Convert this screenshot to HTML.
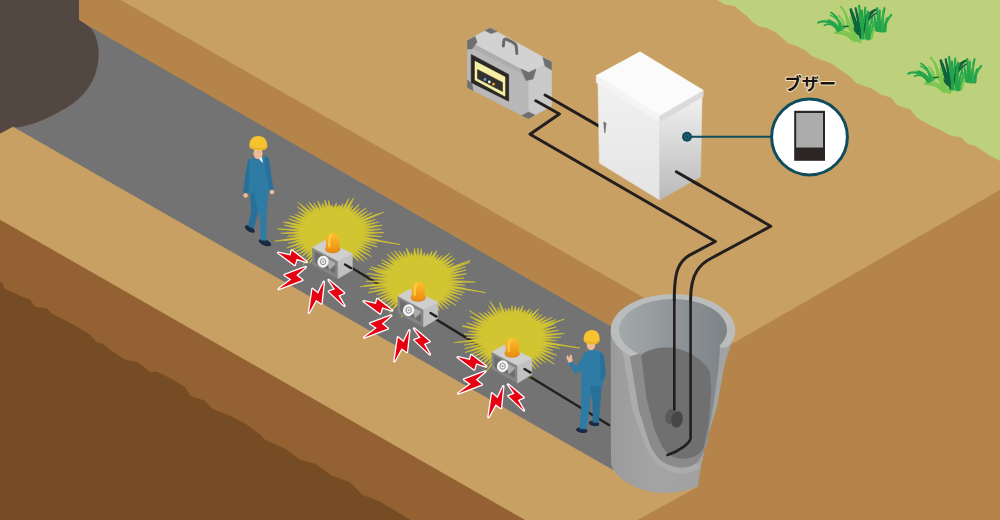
<!DOCTYPE html>
<html lang="ja"><head><meta charset="utf-8"><title>ブザー</title>
<style>html,body{margin:0;padding:0;background:#C8A063;overflow:hidden}svg{display:block}</style></head>
<body><svg width="1000" height="520" viewBox="0 0 1000 520">
<defs>
<linearGradient id="gPipeIn" gradientUnits="userSpaceOnUse" x1="619" y1="0" x2="727" y2="0">
<stop offset="0" stop-color="#A3A9AB"/><stop offset="1" stop-color="#7C8285"/></linearGradient>
<linearGradient id="gPipeFront" x1="0" y1="0" x2="1" y2="0">
<stop offset="0" stop-color="#9B9B9C"/><stop offset="0.35" stop-color="#A4A4A5"/><stop offset="1" stop-color="#9E9E9F"/></linearGradient>
<linearGradient id="gBoxR" x1="0" y1="0" x2="0" y2="1">
<stop offset="0" stop-color="#F2F2F2"/><stop offset="1" stop-color="#B9B9B9"/></linearGradient>
<linearGradient id="gBoxL" x1="0" y1="0" x2="0" y2="1">
<stop offset="0" stop-color="#F1F1F1"/><stop offset="1" stop-color="#E4E4E4"/></linearGradient>
<linearGradient id="gLamp" x1="0" y1="0" x2="0" y2="1">
<stop offset="0" stop-color="#FBC02D"/><stop offset="1" stop-color="#EE8E12"/></linearGradient>
<linearGradient id="gPipeIn2" x1="0" y1="0" x2="1" y2="0"><stop offset="0" stop-color="#8E8E8E"/><stop offset="0.4" stop-color="#8A8C8D"/><stop offset="1" stop-color="#838889"/></linearGradient>
<filter id="fGlow" x="-20%" y="-20%" width="140%" height="140%"><feGaussianBlur stdDeviation="0.35"/></filter>
</defs>
<rect width="1000" height="520" fill="#C8A063"/>
<polygon points="717.4,0.0 724.7,4.1 734.5,5.7 741.0,11.4 747.6,16.3 752.5,22.0 759.0,26.1 767.2,27.8 775.4,31.9 781.9,37.6 788.4,43.3 796.6,45.8 804.8,49.8 811.3,55.6 821.1,59.6 830.9,62.9 839.1,68.6 850.0,76.5 856.5,83.1 871.2,88.0 881.0,94.5 890.8,97.0 897.4,105.1 910.5,109.2 917.0,117.4 928.4,123.9 941.5,130.5 951.3,135.4 961.1,137.0 967.6,143.5 975.8,146.0 985.6,152.5 989.0,155.0 1000.0,160.5 1000.0,0.0" fill="#BDD07B" stroke="#BDD07B" stroke-width="0.6" stroke-linejoin="round" />
<polygon points="60.0,0.0 79.0,20.0 720.0,389.0 720.0,540.0 0.0,130.0 0.0,0.0" fill="#737373" stroke="#737373" stroke-width="0.6" stroke-linejoin="round" />
<polygon points="79.0,-5.0 120.0,0.0 700.0,329.9 700.0,377.1 79.0,20.0" fill="#B5844A" stroke="#B5844A" stroke-width="0.6" stroke-linejoin="round" />
<polygon points="79.0,-5.0 111.0,-5.0 120.0,0.0 79.0,0.0" fill="#B5844A" stroke="#B5844A" stroke-width="0.6" stroke-linejoin="round" />
<path d="M0,0 L79,0 L79,20 C86,24 91,28 93,31 C97,38 99,46 98.7,55 C98.5,62 97,69 95,75 C92,83 88,89 82.5,95 C77,101 70,106 62.5,110 C53,115.5 43,120.5 32.5,124 C26,126 19,127.3 13,127.5 L0,134 Z" fill="#534741"/>
<polygon points="13.0,127.0 613.0,470.2 640.0,440.0 720.0,440.0 720.0,540.0 0.0,540.0 0.0,134.0" fill="#C8A063" stroke="#C8A063" stroke-width="0.6" stroke-linejoin="round" />
<polygon points="0.0,220.0 524.5,520.0 530.0,530.0 0.0,530.0" fill="#946232" stroke="#946232" stroke-width="0.6" stroke-linejoin="round" />
<polygon points="0.0,282.0 3.0,284.0 4.0,289.0 12.0,292.0 22.0,297.0 30.0,300.0 35.0,307.0 47.0,309.0 52.0,314.0 75.0,326.0 90.0,335.0 97.0,343.0 103.0,344.0 110.0,350.0 125.0,360.0 137.5,362.5 142.5,366.0 150.0,372.5 157.0,372.0 175.0,381.0 185.0,387.5 190.0,396.0 205.0,401.0 212.0,409.0 230.0,416.0 247.0,425.0 260.0,435.0 265.0,440.0 287.0,450.0 300.0,460.0 315.0,464.0 332.0,476.0 350.0,482.5 362.0,495.0 380.0,502.0 405.0,517.0 410.0,520.0 0.0,520.0" fill="#754C24" stroke="#754C24" stroke-width="0.6" stroke-linejoin="round" />
<polygon points="724.0,348.8 1000.0,190.3 1000.0,520.0 638.0,520.0 697.0,487.5" fill="#B5844A" stroke="#B5844A" stroke-width="0.6" stroke-linejoin="round" />
<path d="M610.7,330 L611,462 C612,478 640,493 663,493 C678,493 690,490 698,486 L701,466 L706.3,440.7 L716.8,406.8 L724.5,364.6 L733.8,337 L735.4,330 Z" fill="url(#gPipeFront)"/>
<ellipse cx="673" cy="330" rx="62.3" ry="36" fill="#BBBDBD"/>
<ellipse cx="673" cy="330" rx="54" ry="31" fill="url(#gPipeIn)"/>
<path d="M622.5,351.5 L629,355.5 L630,356.3 L638.8,410 L650,445 C654,453 658,459 663.8,462.5 C670,466 676,467.5 682.5,467.5 C688,467.5 693,465.5 697.5,462.5 L700.5,468 C694,471.5 688,473.5 682,473.5 C674,473.5 666,470.5 660,466 C654,461 649,454 645,445 L632.5,410 Z" fill="#ACACAD"/>
<path d="M630,356.3 L641,353 L655,335 L705,335 L718.5,345.8 L720,347.5 L718.8,365 L713.8,402.5 L706.3,445 C704,452 701,458 697.5,462.5 C693,465.5 688,467.5 682.5,467.5 C676,467.5 670,466 663.8,462.5 C658,459 654,453 650,445 L638.8,410 Z" fill="#8B8B8B"/>
<path d="M641,353 L655,335 L705,335 L718.5,345.8 L720,347.5 L718.8,365 L713.8,402.5 L706.3,445 L703.8,447.5 L708.8,422.5 L711.3,390 L710,372.5 C707,366 703,362 698,358.5 C690,352.5 680,348 668,347.5 C657,347.3 647,350 641.3,355 Z" fill="url(#gPipeIn)" stroke="url(#gPipeIn)" stroke-width="1" stroke-linejoin="round"/>
<path d="M720,347.5 L728,347.3 L724.5,364.6 L716.8,406.8 L706.3,440.7 L701,466 L697.5,462.5 C701,458 704,452 706.3,445 L713.8,402.5 L718.8,365 Z" fill="#A1A3A4"/>
<path d="M641.3,355 C647,350 657,347.3 668,347.5 C680,348 690,352.5 698,358.5 C703,362 707,366 710,372.5 L711.3,390 L708.8,422.5 L703.8,447.5 C701,452 698,455 695,456.3 C691,458 687,458.8 682.5,458.8 C678,458.8 674,457.5 670,455 C666,452.5 663.5,449 661.3,445 L653.8,427.5 L646.3,397.5 Z" fill="#707070"/>
<path d="M674.3,300 L674.3,410" fill="none" stroke="#231F1E" stroke-width="2.6" stroke-linecap="round" stroke-linejoin="round"/>
<path d="M690.6,300 L690.6,438 C690,443 680,451 667.5,455" fill="none" stroke="#231F1E" stroke-width="2.6" stroke-linecap="round" stroke-linejoin="round"/>
<ellipse cx="670.3" cy="416.5" rx="5" ry="7.5" fill="#5A5A5A" transform="rotate(12 670.3 416.5)"/>
<ellipse cx="677" cy="419.4" rx="5.8" ry="8.3" fill="#474747" transform="rotate(12 677 419.4)"/>
<polygon points="467.5,41.0 528.7,72.5 528.7,118.7 467.5,87.5" fill="#B8B8B8" stroke="#B8B8B8" stroke-width="0.6" stroke-linejoin="round" />
<polygon points="467.5,41.0 528.7,72.5 528.7,77.0 467.5,45.5" fill="#ADADAD" stroke="#ADADAD" stroke-width="0.6" stroke-linejoin="round" />
<polygon points="528.7,72.5 551.5,61.7 551.5,106.0 528.7,118.7" fill="#C9C9C9" stroke="#C9C9C9" stroke-width="0.6" stroke-linejoin="round" />
<polygon points="467.5,40.2 490.3,28.0 551.5,61.7 528.7,72.5" fill="#D2D2D2" stroke="#D2D2D2" stroke-width="0.6" stroke-linejoin="round" />
<polygon points="467.5,40.5 475.0,36.5 477.0,42.0 472.0,49.0 467.5,49.0" fill="#6F6F6F" stroke="#6F6F6F" stroke-width="0.6" stroke-linejoin="round" />
<polygon points="485.0,30.5 490.3,28.0 497.0,31.5 491.0,33.5" fill="#6F6F6F" stroke="#6F6F6F" stroke-width="0.6" stroke-linejoin="round" />
<polygon points="543.0,57.5 551.5,61.7 551.5,70.0 545.0,66.0" fill="#6F6F6F" stroke="#6F6F6F" stroke-width="0.6" stroke-linejoin="round" />
<polygon points="521.0,69.0 528.7,72.5 536.0,69.0 533.0,79.0 526.0,80.5" fill="#6F6F6F" stroke="#6F6F6F" stroke-width="0.6" stroke-linejoin="round" />
<polygon points="467.5,80.0 472.0,84.0 473.0,90.5 467.5,87.5" fill="#6F6F6F" stroke="#6F6F6F" stroke-width="0.6" stroke-linejoin="round" />
<polygon points="522.0,115.5 528.7,112.0 535.0,115.0 528.7,118.7" fill="#6F6F6F" stroke="#6F6F6F" stroke-width="0.6" stroke-linejoin="round" />
<path d="M503.3,46 L503.8,41.5 C504,39 505.5,38.6 507.5,39.6 L513.5,42.8 C515.5,44 516.3,45.5 516.5,48 L516.8,53.5" fill="none" stroke="#6a6a6a" stroke-width="3" stroke-linecap="round"/>
<polygon points="471.2,54.5 508.7,74.5 508.7,101.2 471.2,82.5" fill="#2B2724" stroke="#2B2724" stroke-width="0.6" stroke-linejoin="round" />
<polygon points="475.0,61.2 505.0,77.0 505.0,96.2 475.0,80.0" fill="#F6F0A5" stroke="#F6F0A5" stroke-width="0.6" stroke-linejoin="round" />
<polygon points="477.5,69.5 502.5,82.5 502.5,91.5 477.5,78.5" fill="#33302F" stroke="#33302F" stroke-width="0.6" stroke-linejoin="round" />
<circle cx="485" cy="79.5" r="1.4" fill="#5CA9DD"/><circle cx="489.3" cy="82" r="1.4" fill="#EEE"/><circle cx="493.5" cy="84.2" r="1.4" fill="#F2A71B"/>
<path d="M545,95 L603,128.4" fill="none" stroke="#231F1E" stroke-width="3" stroke-linecap="round" stroke-linejoin="round"/>
<path d="M535.8,100.8 L559.4,114 L530,134.2 L715.4,241.5 L689.2,255.4 C683,259 680.5,263 678.5,267.7 C675.5,274 674.3,283 674.3,300" fill="none" stroke="#231F1E" stroke-width="3" stroke-linecap="round" stroke-linejoin="round"/>
<path d="M676.3,171.7 L770.8,226.2 L710.8,258.5 C704,262 700,266 697,270.8 C693,277 690.6,288 690.6,300" fill="none" stroke="#231F1E" stroke-width="3" stroke-linecap="round" stroke-linejoin="round"/>
<polygon points="598.0,82.0 659.8,119.0 659.8,200.0 599.4,163.0" fill="url(#gBoxL)" stroke="url(#gBoxL)" stroke-width="0.6" stroke-linejoin="round" />
<polygon points="659.8,119.0 702.0,95.0 700.5,176.8 659.8,200.0" fill="url(#gBoxR)" stroke="url(#gBoxR)" stroke-width="0.6" stroke-linejoin="round" />
<polygon points="596.3,75.5 659.8,115.6 659.8,122.0 596.3,82.5" fill="#F4F4F4" stroke="#F4F4F4" stroke-width="0.6" stroke-linejoin="round" />
<polygon points="659.8,115.6 703.2,90.2 703.2,96.5 659.8,122.0" fill="#DADADA" stroke="#DADADA" stroke-width="0.6" stroke-linejoin="round" />
<polygon points="640.0,51.8 703.2,90.2 659.8,115.6 596.3,75.5" fill="#FBFBFB" stroke="#FBFBFB" stroke-width="0.6" stroke-linejoin="round" />
<path d="M603.3,121.5 L606.5,123 L605.3,133 L604.3,133 Z" fill="#777"/>
<path d="M676.3,171.7 L700,185.4" fill="none" stroke="#231F1E" stroke-width="3" stroke-linecap="round" stroke-linejoin="round"/>
<line x1="687" y1="136.7" x2="771" y2="136.7" stroke="#0F4C5C" stroke-width="2"/>
<circle cx="687" cy="136.7" r="5" fill="#0F4C5C"/>
<circle cx="687" cy="136.7" r="2.2" fill="none" stroke="#2E6B7B" stroke-width="0.8"/>
<circle cx="809.5" cy="137" r="37.9" fill="#fff" stroke="#0F4C5C" stroke-width="3"/>
<rect x="794.2" y="110.8" width="30.8" height="50" fill="#2B2523"/>
<rect x="796.2" y="113" width="26.8" height="34.5" fill="#ACACAC"/>
<text x="810.3" y="90" text-anchor="middle" font-family="'Liberation Sans','Noto Sans CJK JP',sans-serif" font-weight="700" font-size="17.2" fill="#1a1311" stroke="#F3E3C3" stroke-width="2" stroke-linejoin="round" paint-order="stroke">ブザー</text>
<path d="M345.5,264 L609,425" fill="none" stroke="#231F1E" stroke-width="2.4" stroke-linecap="round" stroke-linejoin="round"/>
<g filter="url(#fGlow)">
<polygon points="384.1,232.7 363.1,234.0 382.2,236.7 361.6,236.1 379.6,240.5 362.3,238.5 376.7,243.5 360.3,240.8 377.5,246.9 359.9,242.8 371.3,248.8 359.3,245.2 370.2,251.9 357.3,246.9 371.3,256.5 355.4,248.7 367.2,259.4 354.7,251.1 364.0,261.6 352.2,252.7 358.8,261.3 349.7,253.8 352.4,259.5 347.1,254.9 351.1,263.1 344.6,255.8 346.9,263.4 342.1,256.6 344.3,266.8 339.3,257.7 339.1,261.6 336.5,258.5 336.2,266.0 334.0,259.1 332.4,263.2 331.0,259.1 329.2,265.5 327.9,258.4 325.2,263.8 325.8,256.5 321.4,264.1 322.8,256.8 318.7,262.4 319.9,256.2 316.1,260.1 317.6,255.2 309.0,263.6 315.4,253.2 302.9,264.7 312.7,252.9 305.4,257.6 311.7,250.1 299.7,257.9 308.6,249.4 297.4,254.8 307.6,247.2 295.3,252.0 305.6,245.1 289.8,250.7 305.8,242.9 286.6,247.9 302.9,241.0 288.3,243.3 302.6,238.6 283.7,240.7 302.6,236.4 287.5,236.3 300.8,234.0 280.9,233.2 301.2,231.6 277.4,228.9 301.2,229.7 284.4,225.3 301.5,226.8 286.2,222.0 304.2,225.3 288.6,218.9 303.9,222.9 290.3,215.9 304.9,220.2 294.9,214.3 306.7,218.2 297.9,211.7 308.1,216.2 297.2,206.8 309.9,214.5 298.1,202.4 313.6,214.0 306.5,204.5 315.4,212.6 308.9,202.0 317.3,210.2 313.9,202.9 320.3,211.0 317.6,200.9 322.6,209.0 322.3,203.1 325.6,209.5 324.7,199.8 328.5,208.2 328.6,200.5 330.8,207.5 332.2,205.0 333.6,208.5 336.3,202.9 336.4,208.7 339.1,204.8 339.7,207.5 343.0,203.7 341.9,210.0 348.9,198.5 344.9,209.8 353.8,197.8 348.3,210.2 352.9,205.5 350.1,212.3 359.1,204.3 351.8,214.0 359.5,208.5 354.3,215.5 366.4,207.8 355.6,217.2 367.5,211.2 357.5,219.2 372.1,212.8 358.7,221.1 378.8,213.6 359.4,223.0 375.4,219.5 362.5,224.8 378.7,221.9 363.5,226.8 382.2,225.1 362.4,229.7 381.1,229.0 364.2,231.7" fill="#D2C530" stroke="#D2C530" stroke-width="0.6" stroke-linejoin="round" />
<polygon points="357.2,224.0 383.7,212.1 356.3,222.2" fill="#D2C530" stroke="#D2C530" stroke-width="0.6" stroke-linejoin="round" />
<polygon points="358.8,238.5 400.1,244.5 359.2,236.5" fill="#D2C530" stroke="#D2C530" stroke-width="0.6" stroke-linejoin="round" />
<polygon points="305.7,235.8 274.8,241.2 306.0,237.8" fill="#D2C530" stroke="#D2C530" stroke-width="0.6" stroke-linejoin="round" />
<polygon points="306.7,226.2 283.2,222.1 306.2,228.2" fill="#D2C530" stroke="#D2C530" stroke-width="0.6" stroke-linejoin="round" />
</g>
<polygon points="312.5,247.5 338.1,261.1 338.1,278.5 312.5,264.8" fill="#858585" stroke="#858585" stroke-width="0.6" stroke-linejoin="round" />
<polygon points="338.1,261.1 352.3,253.8 352.3,270.0 338.1,278.5" fill="#C1C1C1" stroke="#C1C1C1" stroke-width="0.6" stroke-linejoin="round" />
<polygon points="312.5,247.5 324.9,240.5 352.3,253.8 338.1,261.1" fill="#CFCFCF" stroke="#CFCFCF" stroke-width="0.6" stroke-linejoin="round" />
<polygon points="315.0,252.0 335.0,262.7 335.0,273.0 315.0,262.3" fill="#6C6C6C" stroke="#6C6C6C" stroke-width="0.6" stroke-linejoin="round" />
<polygon points="326.5,258.5 335.0,262.7 335.0,264.5 329.5,269.5" fill="#ABABAB" stroke="#ABABAB" stroke-width="0.6" stroke-linejoin="round" />
<ellipse cx="323.1" cy="261.7" rx="5.6" ry="6" fill="#F2F2F2" transform="rotate(20 323.1 261.7)"/>
<ellipse cx="323.1" cy="261.7" rx="2.7" ry="3" fill="none" stroke="#8a8a8a" stroke-width="1"/>
<circle cx="323.1" cy="261.7" r="0.9" fill="#8a8a8a"/>
<ellipse cx="332.7" cy="249.0" rx="7.6" ry="4.3" fill="#D98A1C"/>
<path d="M326.1,248.7 L326.1,239.5 C326.1,231.0 339.3,231.0 339.3,239.5 L339.3,248.7 C339.3,252.7 326.1,252.7 326.1,248.7 Z" fill="url(#gLamp)"/>
<path d="M329.3,246.5 C328.9,241.5 329.1,237.5 331.2,235.5" fill="none" stroke="#FDD24A" stroke-width="2.4" stroke-linecap="round" opacity="0.8"/>
<path d="M345.0,264.5 l6,3.6" fill="none" stroke="#231F1E" stroke-width="2.4" stroke-linecap="round" stroke-linejoin="round"/>
<polygon points="278.2,252.7 290.5,255.4 291.8,250.5 306.6,262.0 296.7,258.8 294.7,264.9" fill="#E60012" stroke="#fff" stroke-width="2.6" stroke-linejoin="round" paint-order="stroke"/>
<polygon points="305.7,267.0 284.6,274.9 291.3,279.5 278.7,289.0 302.3,280.0 296.2,275.2" fill="#E60012" stroke="#fff" stroke-width="2.6" stroke-linejoin="round" paint-order="stroke"/>
<polygon points="323.8,281.7 318.1,293.8 312.5,288.9 309.0,312.7 316.1,299.8 321.4,303.5" fill="#E60012" stroke="#fff" stroke-width="2.6" stroke-linejoin="round" paint-order="stroke"/>
<polygon points="328.6,280.1 344.0,293.0 338.3,295.4 344.4,305.9 329.0,291.4 335.1,289.3" fill="#E60012" stroke="#fff" stroke-width="2.6" stroke-linejoin="round" paint-order="stroke"/>
<g filter="url(#fGlow)">
<polygon points="475.3,281.9 449.3,282.9 465.0,285.2 448.6,285.0 465.2,288.5 449.1,287.6 464.5,292.7 445.9,289.0 462.4,295.2 447.1,291.9 460.5,298.9 444.5,293.3 457.7,301.3 442.5,295.4 455.9,305.3 442.0,298.1 449.9,305.6 438.8,298.9 448.3,309.0 437.6,300.8 443.4,309.5 436.0,302.9 439.4,310.4 433.0,304.0 435.2,309.7 429.9,303.8 431.4,310.5 428.3,306.3 428.5,312.2 425.0,306.2 424.7,310.4 422.0,306.7 422.0,314.2 419.1,305.9 417.8,309.1 416.8,306.0 414.6,309.6 413.7,305.8 410.7,314.6 411.2,304.9 408.2,310.1 408.1,306.4 401.4,317.7 405.8,303.7 399.5,312.5 402.7,304.5 398.3,308.0 400.2,302.6 389.4,313.0 397.9,301.2 386.9,309.0 396.3,299.1 384.3,306.9 394.7,297.6 383.8,302.3 392.7,295.8 375.8,303.3 391.4,293.6 375.8,299.2 391.2,291.4 376.7,294.9 387.7,289.8 367.8,292.8 388.8,287.2 369.3,288.9 388.3,284.8 364.6,285.6 388.4,282.7 365.8,281.3 388.1,280.5 369.8,277.8 388.4,278.0 366.8,273.3 388.1,275.8 375.1,271.4 389.8,273.7 371.1,267.0 388.9,271.0 377.5,264.9 392.3,269.9 381.4,262.8 392.4,266.9 381.7,259.5 395.0,265.9 387.6,258.7 395.4,263.1 386.9,254.0 398.6,262.3 391.1,252.3 401.1,261.6 394.3,250.6 403.1,259.1 398.9,250.8 405.7,258.5 403.7,251.4 408.1,257.7 406.4,248.0 411.0,256.3 411.2,252.5 413.6,256.8 414.4,248.2 416.8,257.3 417.9,247.8 419.3,257.4 421.4,248.3 422.2,257.5 424.5,252.5 425.1,257.2 427.8,253.3 428.2,257.2 432.1,251.0 430.7,257.7 436.8,250.5 433.6,259.1 438.5,254.5 435.2,260.5 442.5,255.4 437.4,262.3 449.9,253.1 440.6,263.0 452.2,255.7 442.4,265.0 454.9,258.4 444.4,266.8 454.1,263.3 445.8,269.0 470.4,260.3 446.4,271.4 465.5,266.8 447.8,273.5 466.1,270.0 448.6,275.4 466.5,273.8 448.5,277.9 464.2,278.0 447.2,280.2" fill="#D2C530" stroke="#D2C530" stroke-width="0.6" stroke-linejoin="round" />
<polygon points="443.0,273.2 470.0,262.1 442.2,271.4" fill="#D2C530" stroke="#D2C530" stroke-width="0.6" stroke-linejoin="round" />
<polygon points="444.3,286.8 485.7,292.6 444.7,284.9" fill="#D2C530" stroke="#D2C530" stroke-width="0.6" stroke-linejoin="round" />
<polygon points="391.0,282.9 359.8,286.6 391.3,284.9" fill="#D2C530" stroke="#D2C530" stroke-width="0.6" stroke-linejoin="round" />
<polygon points="392.5,273.8 369.3,268.8 391.9,275.7" fill="#D2C530" stroke="#D2C530" stroke-width="0.6" stroke-linejoin="round" />
</g>
<polygon points="398.0,296.0 423.6,309.6 423.6,327.0 398.0,313.3" fill="#858585" stroke="#858585" stroke-width="0.6" stroke-linejoin="round" />
<polygon points="423.6,309.6 437.8,302.3 437.8,318.5 423.6,327.0" fill="#C1C1C1" stroke="#C1C1C1" stroke-width="0.6" stroke-linejoin="round" />
<polygon points="398.0,296.0 410.4,289.0 437.8,302.3 423.6,309.6" fill="#CFCFCF" stroke="#CFCFCF" stroke-width="0.6" stroke-linejoin="round" />
<polygon points="400.5,300.5 420.5,311.2 420.5,321.5 400.5,310.8" fill="#6C6C6C" stroke="#6C6C6C" stroke-width="0.6" stroke-linejoin="round" />
<polygon points="412.0,307.0 420.5,311.2 420.5,313.0 415.0,318.0" fill="#ABABAB" stroke="#ABABAB" stroke-width="0.6" stroke-linejoin="round" />
<ellipse cx="408.6" cy="310.2" rx="5.6" ry="6" fill="#F2F2F2" transform="rotate(20 408.6 310.2)"/>
<ellipse cx="408.6" cy="310.2" rx="2.7" ry="3" fill="none" stroke="#8a8a8a" stroke-width="1"/>
<circle cx="408.6" cy="310.2" r="0.9" fill="#8a8a8a"/>
<ellipse cx="418.2" cy="297.5" rx="7.6" ry="4.3" fill="#D98A1C"/>
<path d="M411.6,297.2 L411.6,288.0 C411.6,279.5 424.8,279.5 424.8,288.0 L424.8,297.2 C424.8,301.2 411.6,301.2 411.6,297.2 Z" fill="url(#gLamp)"/>
<path d="M414.8,295.0 C414.4,290.0 414.6,286.0 416.7,284.0" fill="none" stroke="#FDD24A" stroke-width="2.4" stroke-linecap="round" opacity="0.8"/>
<path d="M430.5,313.0 l6,3.6" fill="none" stroke="#231F1E" stroke-width="2.4" stroke-linecap="round" stroke-linejoin="round"/>
<polygon points="363.7,301.2 376.0,303.9 377.3,299.0 392.1,310.5 382.2,307.3 380.2,313.4" fill="#E60012" stroke="#fff" stroke-width="2.6" stroke-linejoin="round" paint-order="stroke"/>
<polygon points="391.2,315.5 370.1,323.4 376.8,328.0 364.2,337.5 387.8,328.5 381.7,323.7" fill="#E60012" stroke="#fff" stroke-width="2.6" stroke-linejoin="round" paint-order="stroke"/>
<polygon points="409.3,330.2 403.6,342.3 398.0,337.4 394.5,361.2 401.6,348.3 406.9,352.0" fill="#E60012" stroke="#fff" stroke-width="2.6" stroke-linejoin="round" paint-order="stroke"/>
<polygon points="414.1,328.6 429.5,341.5 423.8,343.9 429.9,354.4 414.5,339.9 420.6,337.8" fill="#E60012" stroke="#fff" stroke-width="2.6" stroke-linejoin="round" paint-order="stroke"/>
<g filter="url(#fGlow)">
<polygon points="561.1,337.3 543.0,338.7 556.7,340.6 541.7,340.8 559.3,345.2 542.2,343.3 559.5,348.3 541.7,345.7 553.1,350.7 539.5,347.5 557.0,355.4 539.6,350.2 554.1,359.0 537.1,351.8 554.5,364.3 536.7,354.1 545.7,362.6 533.4,355.1 542.0,364.3 531.7,357.3 539.0,367.4 528.7,357.6 535.5,369.2 527.2,359.9 531.5,369.2 524.0,359.5 530.4,377.2 521.5,360.6 523.4,369.8 519.4,362.2 519.7,369.6 516.2,363.5 515.8,371.4 513.7,362.8 512.3,366.0 510.6,361.8 508.6,370.5 507.3,363.2 505.1,368.0 504.8,362.2 501.1,368.9 502.3,361.2 498.2,366.3 499.3,360.4 495.6,364.5 497.7,358.5 485.5,372.4 494.4,358.6 485.4,366.5 493.4,356.2 480.0,366.1 490.2,355.4 480.0,361.6 488.3,353.7 476.6,359.6 486.7,352.0 473.8,356.7 485.8,349.3 470.5,354.7 484.5,347.7 465.2,352.5 483.7,345.1 464.6,348.7 482.9,343.1 464.2,345.1 480.7,340.9 465.3,341.3 480.5,338.6 466.1,337.6 482.0,336.2 464.1,334.0 480.5,333.9 468.1,331.0 480.9,331.3 462.2,326.0 482.2,329.5 466.5,322.8 484.3,327.6 472.8,321.7 484.4,325.0 469.6,316.4 486.0,322.6 469.2,310.5 488.7,321.9 479.0,312.7 490.3,319.4 483.8,312.3 491.9,317.7 487.6,311.2 495.3,317.3 488.6,306.1 497.9,316.4 490.1,301.3 499.5,314.5 497.7,307.3 502.4,314.7 499.4,302.1 505.4,313.9 505.3,308.0 507.6,312.3 508.7,307.8 510.5,313.3 512.0,305.6 513.1,313.1 515.4,306.2 516.3,311.9 519.0,307.2 519.1,312.6 523.0,305.6 521.6,313.6 525.3,309.7 524.8,313.7 530.0,308.5 526.8,316.1 532.3,310.6 530.0,316.1 538.7,308.8 530.9,318.9 538.8,313.5 532.9,320.6 542.3,314.5 534.5,322.0 546.1,316.7 538.1,322.9 552.2,317.5 539.3,324.8 555.6,319.7 541.2,327.1 554.9,323.5 540.5,329.9 556.3,326.9 541.6,331.9 558.8,330.2 541.2,334.1 564.3,333.5 541.7,336.5" fill="#D2C530" stroke="#D2C530" stroke-width="0.6" stroke-linejoin="round" />
<polygon points="537.2,329.6 564.5,319.0 536.5,327.8" fill="#D2C530" stroke="#D2C530" stroke-width="0.6" stroke-linejoin="round" />
<polygon points="538.4,342.6 579.8,348.1 538.7,340.7" fill="#D2C530" stroke="#D2C530" stroke-width="0.6" stroke-linejoin="round" />
<polygon points="485.0,338.8 453.8,342.6 485.3,340.8" fill="#D2C530" stroke="#D2C530" stroke-width="0.6" stroke-linejoin="round" />
<polygon points="486.3,330.3 463.0,325.8 485.8,332.2" fill="#D2C530" stroke="#D2C530" stroke-width="0.6" stroke-linejoin="round" />
</g>
<polygon points="492.0,352.0 517.6,365.6 517.6,383.0 492.0,369.3" fill="#858585" stroke="#858585" stroke-width="0.6" stroke-linejoin="round" />
<polygon points="517.6,365.6 531.8,358.3 531.8,374.5 517.6,383.0" fill="#C1C1C1" stroke="#C1C1C1" stroke-width="0.6" stroke-linejoin="round" />
<polygon points="492.0,352.0 504.4,345.0 531.8,358.3 517.6,365.6" fill="#CFCFCF" stroke="#CFCFCF" stroke-width="0.6" stroke-linejoin="round" />
<polygon points="494.5,356.5 514.5,367.2 514.5,377.5 494.5,366.8" fill="#6C6C6C" stroke="#6C6C6C" stroke-width="0.6" stroke-linejoin="round" />
<polygon points="506.0,363.0 514.5,367.2 514.5,369.0 509.0,374.0" fill="#ABABAB" stroke="#ABABAB" stroke-width="0.6" stroke-linejoin="round" />
<ellipse cx="502.6" cy="366.2" rx="5.6" ry="6" fill="#F2F2F2" transform="rotate(20 502.6 366.2)"/>
<ellipse cx="502.6" cy="366.2" rx="2.7" ry="3" fill="none" stroke="#8a8a8a" stroke-width="1"/>
<circle cx="502.6" cy="366.2" r="0.9" fill="#8a8a8a"/>
<ellipse cx="512.2" cy="353.5" rx="7.6" ry="4.3" fill="#D98A1C"/>
<path d="M505.6,353.2 L505.6,344.0 C505.6,335.5 518.8,335.5 518.8,344.0 L518.8,353.2 C518.8,357.2 505.6,357.2 505.6,353.2 Z" fill="url(#gLamp)"/>
<path d="M508.8,351.0 C508.4,346.0 508.6,342.0 510.7,340.0" fill="none" stroke="#FDD24A" stroke-width="2.4" stroke-linecap="round" opacity="0.8"/>
<path d="M524.5,369.0 l6,3.6" fill="none" stroke="#231F1E" stroke-width="2.4" stroke-linecap="round" stroke-linejoin="round"/>
<polygon points="457.7,357.2 470.0,359.9 471.3,355.0 486.1,366.5 476.2,363.3 474.2,369.4" fill="#E60012" stroke="#fff" stroke-width="2.6" stroke-linejoin="round" paint-order="stroke"/>
<polygon points="485.2,371.5 464.1,379.4 470.8,384.0 458.2,393.5 481.8,384.5 475.7,379.7" fill="#E60012" stroke="#fff" stroke-width="2.6" stroke-linejoin="round" paint-order="stroke"/>
<polygon points="503.3,386.2 497.6,398.3 492.0,393.4 488.5,417.2 495.6,404.3 500.9,408.0" fill="#E60012" stroke="#fff" stroke-width="2.6" stroke-linejoin="round" paint-order="stroke"/>
<polygon points="508.1,384.6 523.5,397.5 517.8,399.9 523.9,410.4 508.5,395.9 514.6,393.8" fill="#E60012" stroke="#fff" stroke-width="2.6" stroke-linejoin="round" paint-order="stroke"/>
<ellipse cx="249.8" cy="229" rx="5.6" ry="2.8" fill="#1B2A41" transform="rotate(32 249.8 229)"/>
<ellipse cx="265" cy="242.6" rx="6.6" ry="3" fill="#1B2A41" transform="rotate(22 265 242.6)"/>
<polygon points="250.0,190.0 259.0,192.0 257.5,214.0 253.5,228.5 248.3,226.0 251.5,211.0" fill="#27709A" stroke="#27709A" stroke-width="0.6" stroke-linejoin="round" />
<polygon points="255.0,192.0 267.5,193.0 266.5,216.0 266.0,240.5 261.0,240.0 260.5,218.0 256.0,203.0" fill="#2E7CA5" stroke="#2E7CA5" stroke-width="0.6" stroke-linejoin="round" />
<polygon points="248.5,159.5 252.5,160.0 251.0,178.0 248.0,194.0 243.5,192.5 245.5,175.0" fill="#27709A" stroke="#27709A" stroke-width="0.6" stroke-linejoin="round" />
<polygon points="249.5,160.0 255.0,157.5 262.0,158.0 266.5,155.8 269.8,172.0 268.5,194.5 250.0,192.5 249.5,176.0" fill="#2E7CA5" stroke="#2E7CA5" stroke-width="0.6" stroke-linejoin="round" />
<polygon points="265.0,157.0 268.5,158.5 272.0,182.0 273.5,189.5 269.8,190.5 268.0,180.0 265.0,167.0" fill="#27709A" stroke="#27709A" stroke-width="0.6" stroke-linejoin="round" />
<circle cx="245.6" cy="195.4" r="2.3" fill="#EDB99B"/><circle cx="272" cy="192" r="2.3" fill="#EDB99B"/>
<polygon points="258.5,158.0 261.5,156.5 262.5,162.5" fill="#F4F4F4" stroke="#F4F4F4" stroke-width="0.6" stroke-linejoin="round" />
<ellipse cx="258" cy="153.3" rx="4.6" ry="5.8" fill="#EDB99B"/>
<path d="M249.5,146.5 C249,139.5 253,136 258.5,136 C264,136 267.6,140 267.3,146.8 C267.3,149.6 262,151 257.5,150.2 C253,149.6 249.6,148.6 249.5,146.5 Z" fill="#F6C22F"/>
<path d="M250.5,146.5 C254,149 262,150 266.8,147.2" fill="none" stroke="#DDA51E" stroke-width="1"/>
<ellipse cx="581.8" cy="430.3" rx="5.8" ry="2.7" fill="#1B2A41" transform="rotate(8 581.8 430.3)"/>
<ellipse cx="594" cy="423.5" rx="5.2" ry="2.5" fill="#1B2A41" transform="rotate(8 594 423.5)"/>
<polygon points="581.5,383.0 591.5,385.0 589.5,408.0 586.0,429.0 580.0,428.5 581.5,406.0" fill="#2E7CA5" stroke="#2E7CA5" stroke-width="0.6" stroke-linejoin="round" />
<polygon points="590.0,385.0 601.5,383.0 600.0,405.0 598.5,422.5 593.0,422.5 593.0,404.0" fill="#27709A" stroke="#27709A" stroke-width="0.6" stroke-linejoin="round" />
<polygon points="584.5,353.5 588.0,358.0 580.0,371.5 574.5,373.0 568.5,362.5 571.5,361.0 576.5,367.0" fill="#2E7CA5" stroke="#2E7CA5" stroke-width="0.6" stroke-linejoin="round" />
<polygon points="584.0,353.0 590.0,350.5 596.0,350.5 601.5,352.0 604.0,368.0 602.5,386.0 581.0,386.0 582.0,368.0" fill="#2E7CA5" stroke="#2E7CA5" stroke-width="0.6" stroke-linejoin="round" />
<polygon points="600.0,352.0 603.5,355.0 605.5,372.0 603.5,380.0 600.5,379.0 601.0,368.0" fill="#27709A" stroke="#27709A" stroke-width="0.6" stroke-linejoin="round" />
<path d="M568.8,363 L566.2,357.5 L567.5,355 L569.5,358 L570,354.5 L571.8,355 L572.6,361.2 Z" fill="#EDB99B"/>
<ellipse cx="591" cy="345.3" rx="4.2" ry="5" fill="#EDB99B"/>
<path d="M583.7,340 C583.2,333.5 587,330 592,330 C597,330 600,334 599.6,340.5 C599.4,343.5 595,345 591,344.6 C587,344.2 583.9,342.5 583.7,340 Z" fill="#F6C22F"/>
<path d="M584.5,340.5 C588,343.4 595,344 599,341.3" fill="none" stroke="#DDA51E" stroke-width="1"/>
<path d="M853.27,40.38 Q846.54,32.21 835.00,32.69" fill="none" stroke="#7BC650" stroke-width="2.50" stroke-linecap="round"/>
<path d="M851.39,40.38 Q845.29,32.21 840.77,32.45 Q847.79,32.21 855.14,40.38 Z" fill="#7BC650"/>
<path d="M855.19,41.35 Q850.38,31.25 841.73,31.25" fill="none" stroke="#7BC650" stroke-width="2.12" stroke-linecap="round"/>
<path d="M853.61,41.35 Q849.33,31.25 846.06,31.25 Q851.44,31.25 856.78,41.35 Z" fill="#7BC650"/>
<path d="M848.46,27.88 Q847.02,12.50 840.77,6.73" fill="none" stroke="#7BC650" stroke-width="2.12" stroke-linecap="round"/>
<path d="M846.88,27.88 Q845.96,12.50 843.89,9.62 Q848.08,12.50 850.05,27.88 Z" fill="#7BC650"/>
<path d="M844.62,28.85 Q843.65,20.19 838.85,15.87" fill="none" stroke="#7BC650" stroke-width="1.73" stroke-linecap="round"/>
<path d="M843.32,28.85 Q842.79,20.19 841.25,18.03 Q844.52,20.19 845.91,28.85 Z" fill="#7BC650"/>
<path d="M858.08,41.35 Q856.15,33.65 851.35,28.85" fill="none" stroke="#7BC650" stroke-width="2.12" stroke-linecap="round"/>
<path d="M856.49,41.35 Q855.10,33.65 853.75,31.25 Q857.21,33.65 859.66,41.35 Z" fill="#7BC650"/>
<path d="M860.00,42.31 Q860.00,33.65 858.08,27.88" fill="none" stroke="#7BC650" stroke-width="1.92" stroke-linecap="round"/>
<path d="M858.56,42.31 Q859.04,33.65 859.04,30.77 Q860.96,33.65 861.44,42.31 Z" fill="#7BC650"/>
<path d="M868.65,39.42 Q870.58,31.73 873.94,27.40" fill="none" stroke="#7BC650" stroke-width="1.92" stroke-linecap="round"/>
<path d="M867.21,39.42 Q869.62,31.73 872.26,29.57 Q871.54,31.73 870.10,39.42 Z" fill="#7BC650"/>
<path d="M838.85,30.77 Q829.23,17.79 818.17,22.60" fill="none" stroke="#25A54B" stroke-width="2.12" stroke-linecap="round"/>
<path d="M837.26,30.77 Q828.17,17.79 823.70,20.19 Q830.29,17.79 840.43,30.77 Z" fill="#25A54B"/>
<path d="M837.88,31.25 Q833.08,21.63 824.42,25.19" fill="none" stroke="#25A54B" stroke-width="1.73" stroke-linecap="round"/>
<path d="M836.59,31.25 Q832.21,21.63 828.75,23.41 Q833.94,21.63 839.18,31.25 Z" fill="#25A54B"/>
<path d="M840.77,30.00 Q838.85,17.31 831.15,12.50" fill="none" stroke="#25A54B" stroke-width="1.92" stroke-linecap="round"/>
<path d="M839.33,30.00 Q837.88,17.31 835.00,14.90 Q839.81,17.31 842.21,30.00 Z" fill="#25A54B"/>
<path d="M842.21,28.85 Q840.77,19.71 830.67,15.38" fill="none" stroke="#33B150" stroke-width="1.54" stroke-linecap="round"/>
<path d="M841.06,28.85 Q840.00,19.71 835.72,17.55 Q841.54,19.71 843.37,28.85 Z" fill="#33B150"/>
<path d="M856.15,32.21 Q852.31,24.52 843.65,26.73" fill="none" stroke="#0F653C" stroke-width="1.54" stroke-linecap="round"/>
<path d="M855.00,32.21 Q851.54,24.52 847.98,25.62 Q853.08,24.52 857.31,32.21 Z" fill="#0F653C"/>
<path d="M858.08,33.65 Q853.27,19.23 850.87,9.62" fill="none" stroke="#0F653C" stroke-width="2.69" stroke-linecap="round"/>
<path d="M856.06,33.65 Q851.92,19.23 852.07,14.42 Q854.62,19.23 860.10,33.65 Z" fill="#0F653C"/>
<path d="M860.00,33.65 Q858.08,19.23 855.67,8.17" fill="none" stroke="#0F653C" stroke-width="2.12" stroke-linecap="round"/>
<path d="M858.41,33.65 Q857.02,19.23 856.88,13.70 Q859.13,19.23 861.59,33.65 Z" fill="#0F653C"/>
<path d="M861.92,32.21 Q863.85,13.46 876.35,9.62" fill="none" stroke="#0F653C" stroke-width="2.12" stroke-linecap="round"/>
<path d="M860.34,32.21 Q862.79,13.46 870.10,11.54 Q864.90,13.46 863.51,32.21 Z" fill="#0F653C"/>
<path d="M863.85,32.69 Q867.69,16.83 877.31,12.50" fill="none" stroke="#0F653C" stroke-width="1.73" stroke-linecap="round"/>
<path d="M862.55,32.69 Q866.83,16.83 872.50,14.66 Q868.56,16.83 865.14,32.69 Z" fill="#0F653C"/>
<path d="M860.96,38.46 Q860.96,19.23 859.04,5.77" fill="none" stroke="#25A54B" stroke-width="2.31" stroke-linecap="round"/>
<path d="M859.23,38.46 Q859.81,19.23 860.00,12.50 Q862.12,19.23 862.69,38.46 Z" fill="#25A54B"/>
<path d="M863.85,38.46 Q863.85,19.23 865.29,7.69" fill="none" stroke="#25A54B" stroke-width="2.12" stroke-linecap="round"/>
<path d="M862.26,38.46 Q862.79,19.23 864.57,13.46 Q864.90,19.23 865.43,38.46 Z" fill="#25A54B"/>
<path d="M867.69,39.42 Q866.73,24.04 869.62,14.42" fill="none" stroke="#25A54B" stroke-width="2.12" stroke-linecap="round"/>
<path d="M866.11,39.42 Q865.67,24.04 868.17,19.23 Q867.79,24.04 869.28,39.42 Z" fill="#25A54B"/>
<path d="M870.58,38.46 Q871.54,26.92 875.38,19.23" fill="none" stroke="#33B150" stroke-width="1.92" stroke-linecap="round"/>
<path d="M869.13,38.46 Q870.58,26.92 873.46,23.08 Q872.50,26.92 872.02,38.46 Z" fill="#33B150"/>
<path d="M877.31,30.96 Q878.46,19.23 877.31,8.17" fill="none" stroke="#25A54B" stroke-width="2.12" stroke-linecap="round"/>
<path d="M875.72,30.96 Q877.40,19.23 877.88,13.70 Q879.52,19.23 878.89,30.96 Z" fill="#25A54B"/>
<path d="M881.63,31.44 Q881.63,19.23 884.52,8.17" fill="none" stroke="#25A54B" stroke-width="2.12" stroke-linecap="round"/>
<path d="M880.05,31.44 Q880.58,19.23 883.08,13.70 Q882.69,19.23 883.22,31.44 Z" fill="#25A54B"/>
<path d="M885.00,31.44 Q885.00,21.15 891.25,14.90" fill="none" stroke="#25A54B" stroke-width="2.12" stroke-linecap="round"/>
<path d="M883.41,31.44 Q883.94,21.15 888.12,18.03 Q886.06,21.15 886.59,31.44 Z" fill="#25A54B"/>
<path d="M875.38,30.00 Q874.42,24.04 871.54,20.19" fill="none" stroke="#33B150" stroke-width="1.54" stroke-linecap="round"/>
<path d="M874.23,30.00 Q873.65,24.04 872.98,22.12 Q875.19,24.04 876.54,30.00 Z" fill="#33B150"/>
<path d="M862.40,36.54 Q860.00,28.85 858.08,31.73" fill="none" stroke="#0F653C" stroke-width="1.35" stroke-linecap="round"/>
<path d="M861.39,36.54 Q859.33,28.85 859.04,30.29 Q860.67,28.85 863.41,36.54 Z" fill="#0F653C"/>
<path d="M850.38,28.85 Q849.42,21.15 846.06,16.35" fill="none" stroke="#7BC650" stroke-width="1.92" stroke-linecap="round"/>
<path d="M848.94,28.85 Q848.46,21.15 847.74,18.75 Q850.38,21.15 851.83,28.85 Z" fill="#7BC650"/>
<path d="M852.31,29.81 Q852.31,22.12 850.38,17.31" fill="none" stroke="#7BC650" stroke-width="1.92" stroke-linecap="round"/>
<path d="M850.87,29.81 Q851.35,22.12 851.35,19.71 Q853.27,22.12 853.75,29.81 Z" fill="#7BC650"/>
<path d="M855.19,40.38 Q853.27,32.69 848.46,27.88" fill="none" stroke="#7BC650" stroke-width="2.12" stroke-linecap="round"/>
<path d="M853.61,40.38 Q852.21,32.69 850.87,30.29 Q854.33,32.69 856.78,40.38 Z" fill="#7BC650"/>
<path d="M871.54,38.46 Q872.50,31.73 876.35,25.96" fill="none" stroke="#7BC650" stroke-width="1.92" stroke-linecap="round"/>
<path d="M870.10,38.46 Q871.54,31.73 874.42,28.85 Q873.46,31.73 872.98,38.46 Z" fill="#7BC650"/>
<path d="M865.77,39.42 Q865.29,31.73 863.85,25.96" fill="none" stroke="#7BC650" stroke-width="1.92" stroke-linecap="round"/>
<path d="M864.33,39.42 Q864.33,31.73 864.57,28.85 Q866.25,31.73 867.21,39.42 Z" fill="#7BC650"/>
<path d="M859.04,34.62 Q856.15,21.15 852.31,12.50" fill="none" stroke="#0F653C" stroke-width="2.12" stroke-linecap="round"/>
<path d="M857.45,34.62 Q855.10,21.15 854.23,16.83 Q857.21,21.15 860.62,34.62 Z" fill="#0F653C"/>
<path d="M860.96,37.50 Q858.56,25.00 857.12,13.46" fill="none" stroke="#0F653C" stroke-width="2.12" stroke-linecap="round"/>
<path d="M859.38,37.50 Q857.50,25.00 857.84,19.23 Q859.62,25.00 862.55,37.50 Z" fill="#0F653C"/>
<path d="M862.88,34.62 Q865.29,19.23 873.46,11.54" fill="none" stroke="#0F653C" stroke-width="1.73" stroke-linecap="round"/>
<path d="M861.59,34.62 Q864.42,19.23 869.38,15.38 Q866.15,19.23 864.18,34.62 Z" fill="#0F653C"/>
<path d="M862.40,38.46 Q862.40,24.04 861.92,10.58" fill="none" stroke="#25A54B" stroke-width="2.12" stroke-linecap="round"/>
<path d="M860.82,38.46 Q861.35,24.04 862.16,17.31 Q863.46,24.04 863.99,38.46 Z" fill="#25A54B"/>
<path d="M866.25,38.46 Q866.25,25.00 867.69,11.54" fill="none" stroke="#25A54B" stroke-width="2.12" stroke-linecap="round"/>
<path d="M864.66,38.46 Q865.19,25.00 866.97,18.27 Q867.31,25.00 867.84,38.46 Z" fill="#25A54B"/>
<path d="M869.13,38.94 Q868.65,28.85 872.50,18.27" fill="none" stroke="#25A54B" stroke-width="1.92" stroke-linecap="round"/>
<path d="M867.69,38.94 Q867.69,28.85 870.58,23.56 Q869.62,28.85 870.58,38.94 Z" fill="#25A54B"/>
<path d="M879.23,31.25 Q879.71,21.15 879.71,10.58" fill="none" stroke="#25A54B" stroke-width="2.12" stroke-linecap="round"/>
<path d="M877.64,31.25 Q878.65,21.15 879.71,15.87 Q880.77,21.15 880.82,31.25 Z" fill="#25A54B"/>
<path d="M883.08,31.44 Q883.08,21.15 883.08,11.54" fill="none" stroke="#33B150" stroke-width="2.12" stroke-linecap="round"/>
<path d="M881.49,31.44 Q882.02,21.15 883.08,16.35 Q884.13,21.15 884.66,31.44 Z" fill="#33B150"/>
<path d="M876.35,30.58 Q876.35,24.04 874.42,16.35" fill="none" stroke="#25A54B" stroke-width="1.92" stroke-linecap="round"/>
<path d="M874.90,30.58 Q875.38,24.04 875.38,20.19 Q877.31,24.04 877.79,30.58 Z" fill="#25A54B"/>
<path d="M880.67,31.44 Q880.19,25.00 878.75,19.23" fill="none" stroke="#25A54B" stroke-width="2.12" stroke-linecap="round"/>
<path d="M879.09,31.44 Q879.13,25.00 879.47,22.12 Q881.25,25.00 882.26,31.44 Z" fill="#25A54B"/>
<path d="M884.04,31.44 Q884.52,25.00 886.92,18.27" fill="none" stroke="#25A54B" stroke-width="1.92" stroke-linecap="round"/>
<path d="M882.60,31.44 Q883.56,25.00 885.72,21.63 Q885.48,25.00 885.48,31.44 Z" fill="#25A54B"/>
<path d="M839.81,30.58 Q835.96,22.12 828.27,20.19" fill="none" stroke="#25A54B" stroke-width="1.73" stroke-linecap="round"/>
<path d="M838.51,30.58 Q835.10,22.12 832.12,21.15 Q836.83,22.12 841.11,30.58 Z" fill="#25A54B"/>
<path d="M842.69,29.33 Q841.73,24.04 837.88,20.67" fill="none" stroke="#33B150" stroke-width="1.73" stroke-linecap="round"/>
<path d="M841.39,29.33 Q840.87,24.04 839.81,22.36 Q842.60,24.04 843.99,29.33 Z" fill="#33B150"/>
<path d="M943.27,91.38 Q936.54,83.21 925.00,83.69" fill="none" stroke="#7BC650" stroke-width="2.50" stroke-linecap="round"/>
<path d="M941.39,91.38 Q935.29,83.21 930.77,83.45 Q937.79,83.21 945.14,91.38 Z" fill="#7BC650"/>
<path d="M945.19,92.35 Q940.38,82.25 931.73,82.25" fill="none" stroke="#7BC650" stroke-width="2.12" stroke-linecap="round"/>
<path d="M943.61,92.35 Q939.33,82.25 936.06,82.25 Q941.44,82.25 946.78,92.35 Z" fill="#7BC650"/>
<path d="M938.46,78.88 Q937.02,63.50 930.77,57.73" fill="none" stroke="#7BC650" stroke-width="2.12" stroke-linecap="round"/>
<path d="M936.88,78.88 Q935.96,63.50 933.89,60.62 Q938.08,63.50 940.05,78.88 Z" fill="#7BC650"/>
<path d="M934.62,79.85 Q933.65,71.19 928.85,66.87" fill="none" stroke="#7BC650" stroke-width="1.73" stroke-linecap="round"/>
<path d="M933.32,79.85 Q932.79,71.19 931.25,69.03 Q934.52,71.19 935.91,79.85 Z" fill="#7BC650"/>
<path d="M948.08,92.35 Q946.15,84.65 941.35,79.85" fill="none" stroke="#7BC650" stroke-width="2.12" stroke-linecap="round"/>
<path d="M946.49,92.35 Q945.10,84.65 943.75,82.25 Q947.21,84.65 949.66,92.35 Z" fill="#7BC650"/>
<path d="M950.00,93.31 Q950.00,84.65 948.08,78.88" fill="none" stroke="#7BC650" stroke-width="1.92" stroke-linecap="round"/>
<path d="M948.56,93.31 Q949.04,84.65 949.04,81.77 Q950.96,84.65 951.44,93.31 Z" fill="#7BC650"/>
<path d="M958.65,90.42 Q960.58,82.73 963.94,78.40" fill="none" stroke="#7BC650" stroke-width="1.92" stroke-linecap="round"/>
<path d="M957.21,90.42 Q959.62,82.73 962.26,80.57 Q961.54,82.73 960.10,90.42 Z" fill="#7BC650"/>
<path d="M928.85,81.77 Q919.23,68.79 908.17,73.60" fill="none" stroke="#25A54B" stroke-width="2.12" stroke-linecap="round"/>
<path d="M927.26,81.77 Q918.17,68.79 913.70,71.19 Q920.29,68.79 930.43,81.77 Z" fill="#25A54B"/>
<path d="M927.88,82.25 Q923.08,72.63 914.42,76.19" fill="none" stroke="#25A54B" stroke-width="1.73" stroke-linecap="round"/>
<path d="M926.59,82.25 Q922.21,72.63 918.75,74.41 Q923.94,72.63 929.18,82.25 Z" fill="#25A54B"/>
<path d="M930.77,81.00 Q928.85,68.31 921.15,63.50" fill="none" stroke="#25A54B" stroke-width="1.92" stroke-linecap="round"/>
<path d="M929.33,81.00 Q927.88,68.31 925.00,65.90 Q929.81,68.31 932.21,81.00 Z" fill="#25A54B"/>
<path d="M932.21,79.85 Q930.77,70.71 920.67,66.38" fill="none" stroke="#33B150" stroke-width="1.54" stroke-linecap="round"/>
<path d="M931.06,79.85 Q930.00,70.71 925.72,68.55 Q931.54,70.71 933.37,79.85 Z" fill="#33B150"/>
<path d="M946.15,83.21 Q942.31,75.52 933.65,77.73" fill="none" stroke="#0F653C" stroke-width="1.54" stroke-linecap="round"/>
<path d="M945.00,83.21 Q941.54,75.52 937.98,76.62 Q943.08,75.52 947.31,83.21 Z" fill="#0F653C"/>
<path d="M948.08,84.65 Q943.27,70.23 940.87,60.62" fill="none" stroke="#0F653C" stroke-width="2.69" stroke-linecap="round"/>
<path d="M946.06,84.65 Q941.92,70.23 942.07,65.42 Q944.62,70.23 950.10,84.65 Z" fill="#0F653C"/>
<path d="M950.00,84.65 Q948.08,70.23 945.67,59.17" fill="none" stroke="#0F653C" stroke-width="2.12" stroke-linecap="round"/>
<path d="M948.41,84.65 Q947.02,70.23 946.88,64.70 Q949.13,70.23 951.59,84.65 Z" fill="#0F653C"/>
<path d="M951.92,83.21 Q953.85,64.46 966.35,60.62" fill="none" stroke="#0F653C" stroke-width="2.12" stroke-linecap="round"/>
<path d="M950.34,83.21 Q952.79,64.46 960.10,62.54 Q954.90,64.46 953.51,83.21 Z" fill="#0F653C"/>
<path d="M953.85,83.69 Q957.69,67.83 967.31,63.50" fill="none" stroke="#0F653C" stroke-width="1.73" stroke-linecap="round"/>
<path d="M952.55,83.69 Q956.83,67.83 962.50,65.66 Q958.56,67.83 955.14,83.69 Z" fill="#0F653C"/>
<path d="M950.96,89.46 Q950.96,70.23 949.04,56.77" fill="none" stroke="#25A54B" stroke-width="2.31" stroke-linecap="round"/>
<path d="M949.23,89.46 Q949.81,70.23 950.00,63.50 Q952.12,70.23 952.69,89.46 Z" fill="#25A54B"/>
<path d="M953.85,89.46 Q953.85,70.23 955.29,58.69" fill="none" stroke="#25A54B" stroke-width="2.12" stroke-linecap="round"/>
<path d="M952.26,89.46 Q952.79,70.23 954.57,64.46 Q954.90,70.23 955.43,89.46 Z" fill="#25A54B"/>
<path d="M957.69,90.42 Q956.73,75.04 959.62,65.42" fill="none" stroke="#25A54B" stroke-width="2.12" stroke-linecap="round"/>
<path d="M956.11,90.42 Q955.67,75.04 958.17,70.23 Q957.79,75.04 959.28,90.42 Z" fill="#25A54B"/>
<path d="M960.58,89.46 Q961.54,77.92 965.38,70.23" fill="none" stroke="#33B150" stroke-width="1.92" stroke-linecap="round"/>
<path d="M959.13,89.46 Q960.58,77.92 963.46,74.08 Q962.50,77.92 962.02,89.46 Z" fill="#33B150"/>
<path d="M967.31,81.96 Q968.46,70.23 967.31,59.17" fill="none" stroke="#25A54B" stroke-width="2.12" stroke-linecap="round"/>
<path d="M965.72,81.96 Q967.40,70.23 967.88,64.70 Q969.52,70.23 968.89,81.96 Z" fill="#25A54B"/>
<path d="M971.63,82.44 Q971.63,70.23 974.52,59.17" fill="none" stroke="#25A54B" stroke-width="2.12" stroke-linecap="round"/>
<path d="M970.05,82.44 Q970.58,70.23 973.08,64.70 Q972.69,70.23 973.22,82.44 Z" fill="#25A54B"/>
<path d="M975.00,82.44 Q975.00,72.15 981.25,65.90" fill="none" stroke="#25A54B" stroke-width="2.12" stroke-linecap="round"/>
<path d="M973.41,82.44 Q973.94,72.15 978.12,69.03 Q976.06,72.15 976.59,82.44 Z" fill="#25A54B"/>
<path d="M965.38,81.00 Q964.42,75.04 961.54,71.19" fill="none" stroke="#33B150" stroke-width="1.54" stroke-linecap="round"/>
<path d="M964.23,81.00 Q963.65,75.04 962.98,73.12 Q965.19,75.04 966.54,81.00 Z" fill="#33B150"/>
<path d="M952.40,87.54 Q950.00,79.85 948.08,82.73" fill="none" stroke="#0F653C" stroke-width="1.35" stroke-linecap="round"/>
<path d="M951.39,87.54 Q949.33,79.85 949.04,81.29 Q950.67,79.85 953.41,87.54 Z" fill="#0F653C"/>
<path d="M940.38,79.85 Q939.42,72.15 936.06,67.35" fill="none" stroke="#7BC650" stroke-width="1.92" stroke-linecap="round"/>
<path d="M938.94,79.85 Q938.46,72.15 937.74,69.75 Q940.38,72.15 941.83,79.85 Z" fill="#7BC650"/>
<path d="M942.31,80.81 Q942.31,73.12 940.38,68.31" fill="none" stroke="#7BC650" stroke-width="1.92" stroke-linecap="round"/>
<path d="M940.87,80.81 Q941.35,73.12 941.35,70.71 Q943.27,73.12 943.75,80.81 Z" fill="#7BC650"/>
<path d="M945.19,91.38 Q943.27,83.69 938.46,78.88" fill="none" stroke="#7BC650" stroke-width="2.12" stroke-linecap="round"/>
<path d="M943.61,91.38 Q942.21,83.69 940.87,81.29 Q944.33,83.69 946.78,91.38 Z" fill="#7BC650"/>
<path d="M961.54,89.46 Q962.50,82.73 966.35,76.96" fill="none" stroke="#7BC650" stroke-width="1.92" stroke-linecap="round"/>
<path d="M960.10,89.46 Q961.54,82.73 964.42,79.85 Q963.46,82.73 962.98,89.46 Z" fill="#7BC650"/>
<path d="M955.77,90.42 Q955.29,82.73 953.85,76.96" fill="none" stroke="#7BC650" stroke-width="1.92" stroke-linecap="round"/>
<path d="M954.33,90.42 Q954.33,82.73 954.57,79.85 Q956.25,82.73 957.21,90.42 Z" fill="#7BC650"/>
<path d="M949.04,85.62 Q946.15,72.15 942.31,63.50" fill="none" stroke="#0F653C" stroke-width="2.12" stroke-linecap="round"/>
<path d="M947.45,85.62 Q945.10,72.15 944.23,67.83 Q947.21,72.15 950.62,85.62 Z" fill="#0F653C"/>
<path d="M950.96,88.50 Q948.56,76.00 947.12,64.46" fill="none" stroke="#0F653C" stroke-width="2.12" stroke-linecap="round"/>
<path d="M949.38,88.50 Q947.50,76.00 947.84,70.23 Q949.62,76.00 952.55,88.50 Z" fill="#0F653C"/>
<path d="M952.88,85.62 Q955.29,70.23 963.46,62.54" fill="none" stroke="#0F653C" stroke-width="1.73" stroke-linecap="round"/>
<path d="M951.59,85.62 Q954.42,70.23 959.38,66.38 Q956.15,70.23 954.18,85.62 Z" fill="#0F653C"/>
<path d="M952.40,89.46 Q952.40,75.04 951.92,61.58" fill="none" stroke="#25A54B" stroke-width="2.12" stroke-linecap="round"/>
<path d="M950.82,89.46 Q951.35,75.04 952.16,68.31 Q953.46,75.04 953.99,89.46 Z" fill="#25A54B"/>
<path d="M956.25,89.46 Q956.25,76.00 957.69,62.54" fill="none" stroke="#25A54B" stroke-width="2.12" stroke-linecap="round"/>
<path d="M954.66,89.46 Q955.19,76.00 956.97,69.27 Q957.31,76.00 957.84,89.46 Z" fill="#25A54B"/>
<path d="M959.13,89.94 Q958.65,79.85 962.50,69.27" fill="none" stroke="#25A54B" stroke-width="1.92" stroke-linecap="round"/>
<path d="M957.69,89.94 Q957.69,79.85 960.58,74.56 Q959.62,79.85 960.58,89.94 Z" fill="#25A54B"/>
<path d="M969.23,82.25 Q969.71,72.15 969.71,61.58" fill="none" stroke="#25A54B" stroke-width="2.12" stroke-linecap="round"/>
<path d="M967.64,82.25 Q968.65,72.15 969.71,66.87 Q970.77,72.15 970.82,82.25 Z" fill="#25A54B"/>
<path d="M973.08,82.44 Q973.08,72.15 973.08,62.54" fill="none" stroke="#33B150" stroke-width="2.12" stroke-linecap="round"/>
<path d="M971.49,82.44 Q972.02,72.15 973.08,67.35 Q974.13,72.15 974.66,82.44 Z" fill="#33B150"/>
<path d="M966.35,81.58 Q966.35,75.04 964.42,67.35" fill="none" stroke="#25A54B" stroke-width="1.92" stroke-linecap="round"/>
<path d="M964.90,81.58 Q965.38,75.04 965.38,71.19 Q967.31,75.04 967.79,81.58 Z" fill="#25A54B"/>
<path d="M970.67,82.44 Q970.19,76.00 968.75,70.23" fill="none" stroke="#25A54B" stroke-width="2.12" stroke-linecap="round"/>
<path d="M969.09,82.44 Q969.13,76.00 969.47,73.12 Q971.25,76.00 972.26,82.44 Z" fill="#25A54B"/>
<path d="M974.04,82.44 Q974.52,76.00 976.92,69.27" fill="none" stroke="#25A54B" stroke-width="1.92" stroke-linecap="round"/>
<path d="M972.60,82.44 Q973.56,76.00 975.72,72.63 Q975.48,76.00 975.48,82.44 Z" fill="#25A54B"/>
<path d="M929.81,81.58 Q925.96,73.12 918.27,71.19" fill="none" stroke="#25A54B" stroke-width="1.73" stroke-linecap="round"/>
<path d="M928.51,81.58 Q925.10,73.12 922.12,72.15 Q926.83,73.12 931.11,81.58 Z" fill="#25A54B"/>
<path d="M932.69,80.33 Q931.73,75.04 927.88,71.67" fill="none" stroke="#33B150" stroke-width="1.73" stroke-linecap="round"/>
<path d="M931.39,80.33 Q930.87,75.04 929.81,73.36 Q932.60,75.04 933.99,80.33 Z" fill="#33B150"/>
</svg></body></html>
